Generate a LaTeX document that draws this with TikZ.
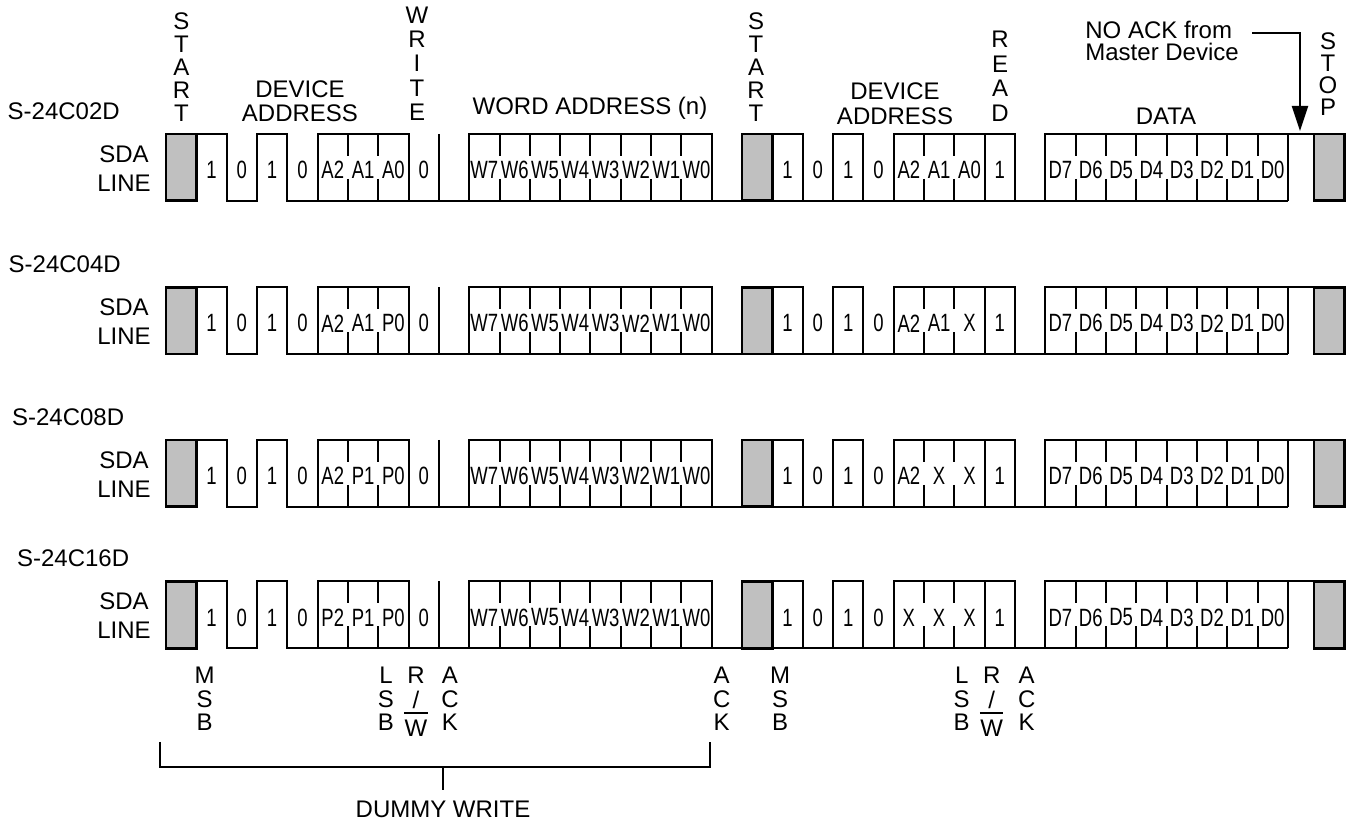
\documentclass[tikz,border=0pt]{standalone}
\usepackage{fontspec}
\setmainfont{Liberation Sans}
\newfontfamily\narrowfont[FakeStretch=0.74]{Liberation Sans}
\usetikzlibrary{arrows.meta}
\definecolor{startgray}{RGB}{192,192,192}

\begin{document}
\begin{tikzpicture}[x=0.5pt,y=-0.5pt,
    wave/.style={line width=1pt},
    gbox/.style={fill=startgray,line width=1.4pt},
    bit/.style={font=\narrowfont\fontsize{12.5}{12.5}\selectfont,inner sep=0pt},
    lbl/.style={font=\fontsize{12}{12}\selectfont,inner sep=0pt,align=center},
    vlbl/.style={inner sep=0pt,align=center,font=\fontsize{12}{#1}\selectfont}]
\useasboundingbox (0,0) rectangle (1356,822);

% headings over the first row
\node[vlbl=11.5] (start1) at (181.5,67.2) {S\\T\\A\\R\\T};
\node[vlbl=12.25] (devaddr1) at (300,101.25) {DEVICE\\ADDRESS};
\node[vlbl=12.2] (write) at (417,63.75) {W\\R\\I\\T\\E};
\node[lbl,anchor=base] (wordaddr) at (590,115) {WORD ADDRESS (n)};
\node[vlbl=11.5] (start2) at (756,67.2) {S\\T\\A\\R\\T};
\node[vlbl=12.25] (devaddr2) at (895,103.5) {DEVICE\\ADDRESS};
\node[vlbl=12.35] (read) at (1000,76.25) {R\\E\\A\\D};
\node[lbl] (data) at (1166,116.5) {DATA};
\node[vlbl=11] (stop) at (1328,73.7) {S\\T\\O\\P};
\node[vlbl=11,align=left,anchor=west] (nack) at (1085,40.5) {NO ACK from\\Master Device};
\coordinate (nack-tip) at (1300,131);
\draw[line width=1pt,-{Triangle[length=12.5pt,width=8pt]}] ([shift={(6.5pt,3.6pt)}]nack.east) -| (nack-tip);

% the four devices
\foreach \r/\ty/\lx/\dev/\pa/\pb/\pc/\qa/\qb/\qc in {
    1/134/7.3/S-24C02D/A2/A1/A0/A2/A1/A0,
    2/287.3/8.3/S-24C04D/A2/A1/P0/A2/A1/X,
    3/440/11.7/S-24C08D/A2/P1/P0/A2/X/X,
    4/581.5/16.7/S-24C16D/P2/P1/P0/X/X/X}{
  \pgfmathsetmacro\by{\ty+66.7}
  \node[lbl,anchor=west] (dev\r) at (\lx,\ty-23) {\dev};
  \node[lbl] (sda\r) at (124,\ty+20) {SDA};
  \node[lbl] (line\r) at (124,\ty+49) {LINE};
  \begin{scope}[shift={(166,0)},x=15.16pt]
    % dummy write part
    \draw[wave] (1,\ty) -- (2,\ty) -- (2,\by) -- (3,\by) -- (3,\ty) -- (4,\ty) -- (4,\by) -- (37,\by);
    \draw[wave] (5,\by) -- (5,\ty) -- (8,\ty) -- (8,\by);
    \draw[wave] (9,\ty) -- (9,\by);
    \draw[wave] (10,\by) -- (10,\ty) -- (18,\ty) -- (18,\by);
    % read part
    \draw[wave] (20,\ty) -- (21,\ty) -- (21,\by);
    \draw[wave] (22,\by) -- (22,\ty) -- (23,\ty) -- (23,\by);
    \draw[wave] (24,\by) -- (24,\ty) -- (28,\ty) -- (28,\by);
    \draw[wave] (27,\ty) -- (27,\by);
    \draw[wave] (29,\by) -- (29,\ty) -- (37.86,\ty);
    \draw[wave] (37,\ty) -- (37,\by);
    \foreach \i in {6,7,11,12,13,14,15,16,17,25,26,30,31,32,33,34,35,36}
      \draw[wave] (\i,\ty) -- (\i,\ty+22) (\i,\ty+45) -- (\i,\by);
    % start and stop
    \draw[gbox] (0,\ty) rectangle (1,\by);
    \draw[gbox] (19,\ty) rectangle (20,\by);
    \draw[gbox] (37.86,\ty) rectangle (38.88,\by);
    \foreach \i/\v in {1/1,2/0,3/1,4/0,5/\pa,6/\pb,7/\pc,8/0,
        10/W7,11/W6,12/W5,13/W4,14/W3,15/W2,16/W1,17/W0,
        20/1,21/0,22/1,23/0,24/\qa,25/\qb,26/\qc,27/1,
        29/D7,30/D6,31/D5,32/D4,33/D3,34/D2,35/D1,36/D0}
      \node[bit] (b\r-\i) at (\i+0.5,\ty+36) {\v};
  \end{scope}
}

% bit markers under the last row
\node[vlbl=11.75] (msb1) at (204.6,699) {M\\S\\B};
\node[vlbl=11.75] (lsb1) at (386,699) {L\\S\\B};
\node[vlbl=12.25] (rw1) at (416,687.75) {R\\/};
\node[lbl] (rw1-w) at (416,728.5) {W};
\draw[line width=1pt] ([yshift=3.6pt]rw1-w.north west) -- ([yshift=3.6pt]rw1-w.north east);
\node[vlbl=11.75] (ack1) at (450,699) {A\\C\\K};
\node[vlbl=11.75] (ack2) at (721.7,699) {A\\C\\K};
\node[vlbl=11.75] (msb2) at (780,699) {M\\S\\B};
\node[vlbl=11.75] (lsb2) at (961.7,699) {L\\S\\B};
\node[vlbl=12.25] (rw2) at (991.7,687.75) {R\\/};
\node[lbl] (rw2-w) at (991.7,728.5) {W};
\draw[line width=1pt] ([yshift=3.6pt]rw2-w.north west) -- ([yshift=3.6pt]rw2-w.north east);
\node[vlbl=11.75] (ack3) at (1026.7,699) {A\\C\\K};

% dummy write bracket
\coordinate (dw-l) at (160,742);
\coordinate (dw-r) at (710,742);
\coordinate (dw-m) at (443,767);
\node[lbl] (dummy) at (443,809) {DUMMY WRITE};
\draw[wave] (dw-l) |- (dw-m) -| (dw-r);
\draw[wave] (dw-m) -- ([yshift=5pt]dummy.north);
\end{tikzpicture}
\end{document}
